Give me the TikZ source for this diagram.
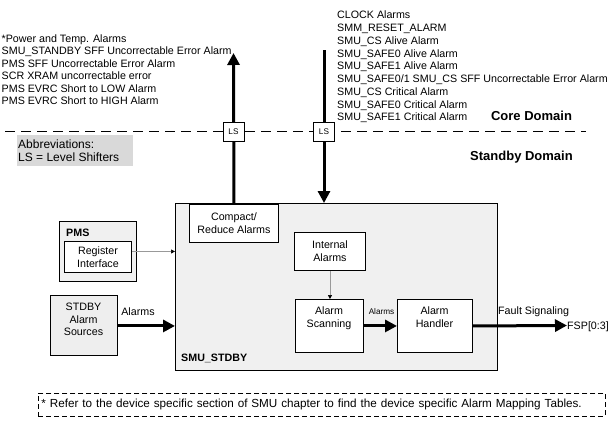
\documentclass[tikz,border=0pt]{standalone}
\usepackage{fontspec}
\setmainfont{Liberation Sans}
\usetikzlibrary{arrows.meta}
\definecolor{smugray}{HTML}{F0F0F0}
\definecolor{srcgray}{HTML}{EEEEEE}
\definecolor{abbrgray}{HTML}{D9D9D9}
\definecolor{thingray}{HTML}{999999}
\newcommand\mybasefont{\fontsize{10.7}{12.7}\selectfont}
\newcommand\mysmallfont{\fontsize{8.2}{9.8}\selectfont}
\newcommand\mynotefont{\fontsize{11.7}{14}\selectfont}
\begin{document}
\begin{tikzpicture}[x=1pt,y=-1pt,font=\mybasefont,
  box/.style={draw=black, line width=0.9pt, fill=white, inner sep=0pt},
  bigarrow/.style={line width=3pt, -{Triangle[length=12pt,width=12pt]}},
  thinarrow/.style={draw=thingray, line width=0.6pt, -{Triangle[length=4pt,width=4pt,color=black]}},
  txt/.style={anchor=base west, inner sep=0pt},
  boldtxt/.style={font=\mybasefont\bfseries},
  domaintxt/.style={font=\fontsize{13}{15}\selectfont\bfseries, inner sep=0pt}]
\useasboundingbox (0,0) rectangle (612,426);

% left alarm list
\foreach \t [count=\i] in {{*Power and Temp. Alarms},
  {SMU\_STANDBY SFF Uncorrectable Error Alarm},
  {PMS SFF Uncorrectable Error Alarm},
  {SCR XRAM uncorrectable error},
  {PMS EVRC Short to LOW Alarm},
  {PMS EVRC Short to HIGH Alarm}}
  \node[txt] (la\i) at (1.5,{29.6+12.55*\i}) {\t};

% right alarm list
\foreach \t [count=\i] in {{CLOCK Alarms},
  {SMM\_RESET\_ALARM},
  {SMU\_CS Alive Alarm},
  {SMU\_SAFE0 Alive Alarm},
  {SMU\_SAFE1 Alive Alarm},
  {SMU\_SAFE0/1 SMU\_CS SFF Uncorrectable Error Alarm},
  {SMU\_CS Critical Alarm},
  {SMU\_SAFE0 Critical Alarm},
  {SMU\_SAFE1 Critical Alarm}}
  \node[txt] (ra\i) at (337,{6.05+12.75*\i}) {\t};

\node[domaintxt] (core) at (531.5,116) {Core Domain};
\node[domaintxt] (standby) at (521.5,157) {Standby Domain};

% abbreviations
\node[fill=abbrgray, inner sep=0pt, minimum width=116pt, minimum height=31pt, anchor=north west] (abbr) at (17,135) {};
\node[txt, font=\fontsize{12}{14}\selectfont] (abbr1) at (18,148.3) {Abbreviations:};
\node[txt, font=\fontsize{12}{14}\selectfont] (abbr2) at (18,161.3) {LS = Level Shifters};

% domain boundary
\coordinate (dl) at (5,131.5);
\coordinate (dr) at (586,131.5);
\draw[line width=1.2pt, dash pattern=on 10pt off 6pt] (dl) -- (dr);

% SMU_STDBY block
\node[box, fill=smugray, line width=1.1pt, minimum width=322pt, minimum height=167pt, anchor=north west] (smu) at (175,203) {};
\node[txt, boldtxt] (smulbl) at (181,361.8) {SMU\_STDBY};

\node[box, minimum width=89pt, minimum height=38pt, anchor=north west, align=center] (compact) at (189,204) {Compact/\\Reduce Alarms};
\node[box, minimum width=71pt, minimum height=38pt, anchor=north west, align=center] (internal) at (294,232) {Internal\\Alarms};
\node[box, minimum width=68pt, minimum height=53pt, anchor=north west] (scan) at (295,299) {};
\node[anchor=north, inner sep=0pt, align=center] (scantxt) at (329,307) {Alarm\\Scanning};
\node[box, minimum width=75pt, minimum height=53pt, anchor=north west] (handler) at (397,299) {};
\node[anchor=north, inner sep=0pt, align=center] (handlertxt) at (434.5,307) {Alarm\\Handler};

% PMS
\node[box, fill=smugray, minimum width=77pt, minimum height=60pt, anchor=north west] (pms) at (59,221) {};
\node[txt, boldtxt] (pmslbl) at (66,236.8) {PMS};
\node[box, minimum width=67pt, minimum height=31pt, anchor=north west, align=center] (reg) at (64,241) {Register\\Interface};

% STDBY alarm sources
\node[box, fill=srcgray, minimum width=67pt, minimum height=60pt, anchor=north west] (src) at (50,295) {};
\node[anchor=north, inner sep=0pt, align=center] (srctxt) at (83.5,302.8) {STDBY\\Alarm\\Sources};

% connectors
\coordinate (uptip) at (233.5,53);
\draw[bigarrow] (compact.north) -- (uptip);
\coordinate (downsrc) at (324,50);
\draw[bigarrow] (downsrc) -- (downsrc |- smu.north);

\draw[thinarrow] ([yshift=5.5pt]reg.east) -- ([yshift=5.5pt]reg.east -| smu.west);
\draw[thinarrow] (internal.south) -- (internal.south |- scan.north);

\draw[bigarrow] (src.east |- scan.east) -- (smu.west |- scan.east);
\draw[bigarrow] (scan.east) -- (handler.west);
\coordinate (fsp) at (567,325.5);
\draw[bigarrow] (handler.east) -- (fsp);

\node[txt] (fsptxt) at ([yshift=-3.8pt]fsp) {FSP[0:3]};
\node[txt] (fault) at (498,314.8) {Fault Signaling};
\node[inner sep=0pt] (alarmsl) at (138,312) {Alarms};
\node[inner sep=0pt, font=\mysmallfont] (alarmss) at (381.5,312) {Alarms};

% level shifters
\node[box, minimum width=21pt, minimum height=19pt, font=\mysmallfont] (ls1) at (233.5,131.5) {LS};
\node[box, minimum width=21pt, minimum height=19pt, font=\mysmallfont] (ls2) at (324,131.5) {LS};

% footnote
\node[draw, line width=0.8pt, dash pattern=on 5pt off 3pt, anchor=west, minimum width=567pt, minimum height=23pt, text width=561pt, inner xsep=3pt, inner ysep=0pt, align=left, font=\mynotefont] (note) at (38,404.5) {* Refer to the device specific section of SMU chapter to find the device specific Alarm Mapping Tables.};
\end{tikzpicture}
\end{document}
